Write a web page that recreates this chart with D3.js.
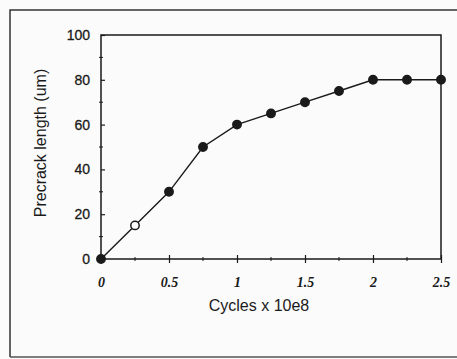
<!DOCTYPE html>
<html><head><meta charset="utf-8">
<script src="https://cdn.jsdelivr.net/npm/d3@7"></script>
<style>body{margin:0;background:#fbfbfb;}svg{display:block;}</style>
</head><body><svg id="c" width="457" height="359"></svg>
<script>
const cycles = [0, 0.25, 0.5, 0.75, 1, 1.25, 1.5, 1.75, 2, 2.25, 2.5];
const precrack = [0, 15, 30, 50, 60, 65, 70, 75, 80, 80, 80];
const hollow = [false, true, false, false, false, false, false, false, false, false, false];
const xTickValues = [0, 0.5, 1, 1.5, 2, 2.5];
const xTickLabels = ["0", "0.5", "1", "1.5", "2", "2.5"];
const yTickValues = [0, 20, 40, 60, 80, 100];
const xTitle = "Cycles x 10e8";
const yTitle = "Precrack length (um)";

const svg = d3.select("#c");
const L = 101, R = 441, T = 35, B = 259;
const x = d3.scaleLinear().domain([0, 2.5]).range([L, R]);
const y = d3.scaleLinear().domain([0, 100]).range([B, T]);
const ink = "#1a1a1a";

// outer frame
svg.append("path").attr("d", "M10,357 L10,10 L457,10").attr("fill", "none").attr("stroke", "#333").attr("stroke-width", 1.5);
svg.append("line").attr("x1", 10).attr("x2", 457).attr("y1", 357).attr("y2", 357).attr("stroke", "#555").attr("stroke-width", 1.5);

// plot box
svg.append("rect").attr("x", L).attr("y", T).attr("width", R - L).attr("height", B - T)
  .attr("fill", "none").attr("stroke", ink).attr("stroke-width", 1.5);

// y axis
const yAxis = d3.axisLeft(y).tickValues(yTickValues).tickSize(4).tickPadding(7).tickFormat(d3.format("d"));
const gy = svg.append("g").attr("transform", `translate(${L},0)`).call(yAxis);
gy.select(".domain").remove();
gy.selectAll(".tick line").attr("x2", 4).attr("stroke", ink).attr("stroke-width", 1.2);
gy.selectAll("text").attr("font-family", "Liberation Sans, Arial, sans-serif").attr("font-size", 14)
  .attr("fill", ink).attr("stroke", ink).attr("stroke-width", 0.3);
const yMinor = d3.range(10, 100, 20);
svg.append("g").selectAll("line").data(yMinor).join("line")
  .attr("x1", L - 2).attr("x2", L + 2).attr("y1", d => y(d)).attr("y2", d => y(d)).attr("stroke", ink);

// x axis
const xAxis = d3.axisBottom(x).tickValues(xTickValues).tickSize(4).tickPadding(17)
  .tickFormat((d, i) => xTickLabels[i]);
const gx = svg.append("g").attr("transform", `translate(0,${B})`).call(xAxis);
gx.select(".domain").remove();
gx.selectAll(".tick line").attr("y1", -4).attr("stroke", ink).attr("stroke-width", 1.2);
gx.selectAll("text").attr("font-family", "Liberation Serif, Times New Roman, serif").attr("font-style", "italic")
  .attr("font-weight", "bold").attr("font-size", 14).attr("fill", ink).attr("dy", "0.5em");
const xMinor = d3.range(0.25, 2.5, 0.5);
svg.append("g").selectAll("line").data(xMinor).join("line")
  .attr("x1", d => x(d)).attr("x2", d => x(d)).attr("y1", B - 2).attr("y2", B + 2).attr("stroke", ink);

// axis titles
svg.append("text").attr("x", 259).attr("y", 311).attr("text-anchor", "middle")
  .attr("font-family", "Liberation Sans, Arial, sans-serif").attr("font-size", 16).attr("fill", ink).text(xTitle);
svg.append("text").attr("transform", "translate(46,143) rotate(-90)").attr("text-anchor", "middle")
  .attr("font-family", "Liberation Sans, Arial, sans-serif").attr("font-size", 16).attr("fill", ink).text(yTitle);

// line and markers
const data = cycles.map((c, i) => ({x: c, y: precrack[i], h: hollow[i]}));
svg.append("path").datum(data).attr("fill", "none").attr("stroke", ink).attr("stroke-width", 1.4)
  .attr("d", d3.line().x(d => x(d.x)).y(d => y(d.y)));
svg.append("g").selectAll("circle").data(data).join("circle")
  .attr("cx", d => x(d.x)).attr("cy", d => y(d.y)).attr("r", 4.2)
  .attr("fill", d => d.h ? "#fbfbfb" : ink).attr("stroke", ink).attr("stroke-width", 1.5);
</script></body></html>
